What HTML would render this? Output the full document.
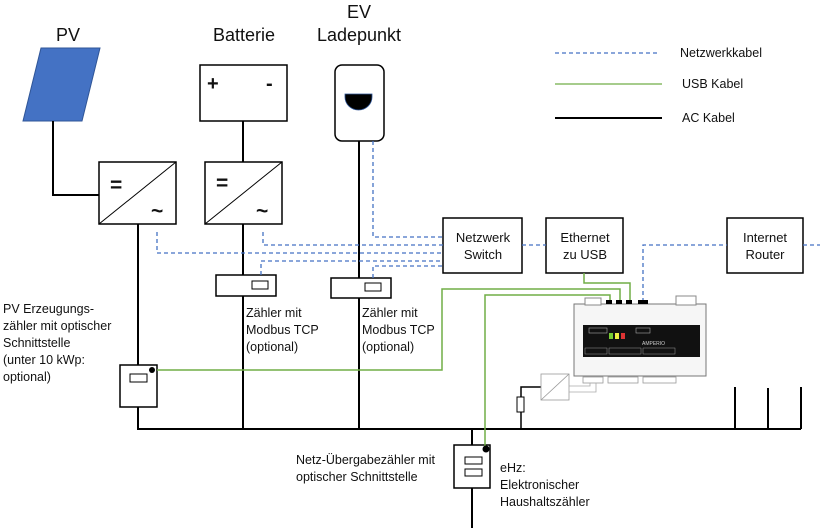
<!DOCTYPE html>
<html><head><meta charset="utf-8"><style>
html,body{margin:0;padding:0;background:#fff}
svg{display:block}
text{font-family:"Liberation Sans",sans-serif;fill:#111}
</style></head><body>
<svg width="820" height="530" viewBox="0 0 820 530" xmlns="http://www.w3.org/2000/svg">
<g font-size="18">
<text x="68" y="41" text-anchor="middle">PV</text>
<text x="244" y="41" text-anchor="middle">Batterie</text>
<text x="359" y="18" text-anchor="middle">EV</text>
<text x="359" y="41" text-anchor="middle">Ladepunkt</text>
</g>
<!-- legend -->
<line x1="555" y1="53" x2="660" y2="53" stroke="#4472c4" stroke-width="1.3" stroke-dasharray="4,3"/>
<line x1="555" y1="84" x2="662" y2="84" stroke="#70ad47" stroke-width="1.3"/>
<line x1="555" y1="118" x2="662" y2="118" stroke="#000" stroke-width="2"/>
<g font-size="12.5">
<text x="680" y="57">Netzwerkkabel</text>
<text x="682" y="88">USB Kabel</text>
<text x="682" y="122">AC Kabel</text>
</g>
<!-- PV panel -->
<polygon points="41,48 100,48 82,121 23,121" fill="#4472c4" stroke="#2f5597" stroke-width="1"/>
<g stroke="#000" stroke-width="2" fill="none">
<polyline points="53,121 53,195 99,195"/>
<rect x="99" y="162" width="77" height="62" fill="#fff" stroke-width="1.5"/>
<line x1="99" y1="224" x2="176" y2="162" stroke-width="1"/>
<rect x="200" y="65" width="87" height="56" fill="#fff" stroke-width="1.5"/>
<line x1="243" y1="121" x2="243" y2="162"/>
<rect x="205" y="162" width="77" height="62" fill="#fff" stroke-width="1.5"/>
<line x1="205" y1="224" x2="282" y2="162" stroke-width="1"/>
<rect x="335" y="65" width="49" height="76" rx="7" fill="#fff" stroke-width="1.5"/>
<line x1="138" y1="224" x2="138" y2="365"/>
<line x1="138" y1="407" x2="138" y2="429"/>
<line x1="243" y1="224" x2="243" y2="429"/>
<line x1="359" y1="141" x2="359" y2="429"/>
<line x1="137" y1="429" x2="801" y2="429"/>
<line x1="735" y1="387" x2="735" y2="429"/>
<line x1="768" y1="388" x2="768" y2="429"/>
<line x1="801" y1="387" x2="801" y2="429"/>
<line x1="472" y1="429" x2="472" y2="445"/>
<line x1="472" y1="488" x2="472" y2="528"/>
<polyline points="521,429 521,412" stroke-width="1.5"/>
<polyline points="521,397 521,387 541,387" stroke-width="1.5"/>
</g>
<g font-size="21" font-weight="bold">
<text x="110" y="192">=</text><text x="151" y="218">~</text>
<text x="216" y="190">=</text><text x="256" y="218">~</text>
<text x="207" y="90" font-size="20">+</text><text x="266" y="90" font-size="20">-</text>
</g>
<path d="M345,94 h27 v3 a13.5,13 0 0 1 -27,0 z" fill="#000" stroke="#2f5597" stroke-width="0.8"/>
<g stroke="#000" stroke-width="1.5" fill="#fff">
<rect x="216" y="275" width="60" height="21"/>
<rect x="252" y="281" width="16" height="8" stroke-width="1"/>
<rect x="331" y="278" width="60" height="20"/>
<rect x="365" y="283" width="16" height="8" stroke-width="1"/>
<rect x="120" y="365" width="37" height="42"/>
<rect x="130" y="374" width="17" height="8" stroke-width="1"/>
<rect x="454" y="445" width="36" height="43"/>
<rect x="465" y="457" width="17" height="7" stroke-width="1"/>
<rect x="465" y="469" width="17" height="7" stroke-width="1"/>
<rect x="517" y="397" width="7" height="15" stroke-width="1"/>
<rect x="443" y="218" width="79" height="55"/>
<rect x="546" y="218" width="77" height="55"/>
<rect x="727" y="218" width="76" height="55"/>
</g>
<g stroke="#4472c4" stroke-width="1.3" fill="none" stroke-dasharray="4,3">
<polyline points="373,141 373,237 443,237"/>
<polyline points="157,232 157,253 443,253"/>
<polyline points="263,232 263,245 443,245"/>
<polyline points="261,275 261,261 443,261"/>
<polyline points="373,278 373,266 443,266"/>
<line x1="522" y1="245" x2="546" y2="245"/>
<polyline points="643,302 643,245 727,245"/>
<line x1="803" y1="245" x2="820" y2="245"/>
</g>
<g stroke="#70ad47" stroke-width="1.5" fill="none">
<polyline points="584,273 584,283 630,283 630,302"/>
<polyline points="157,370 442,370 442,289 620,289 620,302"/>
<polyline points="485,448 485,295 610,295 610,302"/>
</g>
<circle cx="152" cy="370" r="3" fill="#000"/>
<circle cx="486" cy="449" r="3.5" fill="#000"/>
<g>
<rect x="574" y="304" width="132" height="72" fill="#f6f6f6" stroke="#777" stroke-width="1"/>
<rect x="585" y="298" width="16" height="7" fill="#fff" stroke="#888"/>
<rect x="676" y="296" width="20" height="9" fill="#fff" stroke="#888"/>
<rect x="606" y="300" width="6" height="4" fill="#000"/>
<rect x="616" y="300" width="6" height="4" fill="#000"/>
<rect x="626" y="300" width="6" height="4" fill="#000"/>
<rect x="638" y="300" width="10" height="4" fill="#000"/>
<rect x="583" y="325" width="117" height="32" fill="#111"/>
<rect x="589" y="328" width="18" height="5" fill="none" stroke="#aaa" stroke-width="0.6"/>
<rect x="636" y="328" width="14" height="5" fill="none" stroke="#aaa" stroke-width="0.6"/>
<rect x="609" y="333" width="4" height="6" fill="#7c3"/>
<rect x="615" y="333" width="4" height="6" fill="#ee4"/>
<rect x="621" y="333" width="4" height="6" fill="#d33"/>
<rect x="585" y="348" width="22" height="6" fill="none" stroke="#999" stroke-width="0.5"/>
<rect x="609" y="348" width="32" height="6" fill="none" stroke="#999" stroke-width="0.5"/>
<rect x="643" y="348" width="32" height="6" fill="none" stroke="#999" stroke-width="0.5"/>
<text x="642" y="345" font-size="5" style="fill:#ccc">AMPERIO</text>
<rect x="583" y="377" width="20" height="6" fill="#fff" stroke="#999" stroke-width="0.8"/>
<rect x="608" y="377" width="30" height="6" fill="#fff" stroke="#999" stroke-width="0.8"/>
<rect x="643" y="377" width="33" height="6" fill="#fff" stroke="#999" stroke-width="0.8"/>
<rect x="541" y="374" width="28" height="26" fill="#fff" stroke="#999" stroke-width="0.8"/>
<line x1="541" y1="400" x2="569" y2="374" stroke="#999" stroke-width="0.8"/>
<polyline points="569,386 590,386 590,383" fill="none" stroke="#aaa" stroke-width="0.8"/>
<polyline points="569,392 596,392 596,383" fill="none" stroke="#aaa" stroke-width="0.8"/>
</g>
<g font-size="13" text-anchor="middle">
<text x="483" y="242">Netzwerk</text><text x="483" y="259">Switch</text>
<text x="585" y="242">Ethernet</text><text x="585" y="259">zu USB</text>
<text x="765" y="242">Internet</text><text x="765" y="259">Router</text>
</g>
<g font-size="12.5">
<text x="246" y="317">Zähler mit</text><text x="246" y="334">Modbus TCP</text><text x="246" y="351">(optional)</text>
<text x="362" y="317">Zähler mit</text><text x="362" y="334">Modbus TCP</text><text x="362" y="351">(optional)</text>
<text x="3" y="313">PV Erzeugungs-</text><text x="3" y="330">zähler mit optischer</text><text x="3" y="347">Schnittstelle</text><text x="3" y="364">(unter 10 kWp:</text><text x="3" y="381">optional)</text>
<text x="296" y="464">Netz-Übergabezähler mit</text><text x="296" y="481">optischer Schnittstelle</text>
<text x="500" y="472">eHz:</text><text x="500" y="489">Elektronischer</text><text x="500" y="506">Haushaltszähler</text>
</g>
</svg>
</body></html>
